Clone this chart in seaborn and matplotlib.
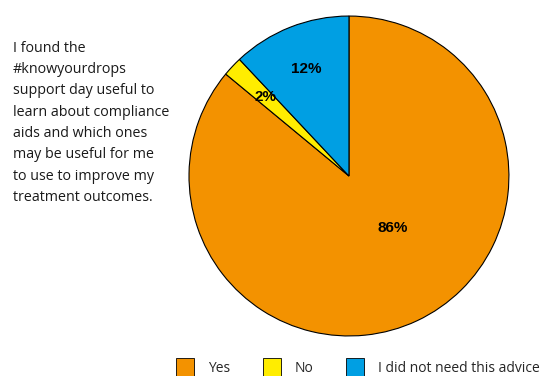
import matplotlib
matplotlib.use("Agg")
import matplotlib.pyplot as plt
import seaborn as sns
import numpy as np

sns.set_theme(style="white")
plt.rcParams['font.family'] = ['Open Sans', 'DejaVu Sans']

categories = ["Yes", "No", "I did not need this advice"]
values = [86, 2, 12]
colors = ["#F39200", "#FFED00", "#009FE3"]
question = ("I found the\n#knowyourdrops\nsupport day useful to\nlearn about compliance\n"
            "aids and which ones\nmay be useful for me\nto use to improve my\ntreatment outcomes.")

fig = plt.figure(figsize=(5.45, 3.76), dpi=100)
ax = fig.add_axes([0.3468, 0.1064, 0.587, 0.851])
wedges, texts, autotexts = ax.pie(
    values, colors=colors, startangle=90, counterclock=False,
    autopct=lambda p: f"{p:.0f}%", pctdistance=0.72,
    wedgeprops=dict(edgecolor="black", linewidth=0.8),
    textprops=dict(fontsize=11, fontweight="bold", color="black",
                   family=['Liberation Sans', 'DejaVu Sans']))
ax.set_xlim(-1, 1)
ax.set_ylim(-1, 1)
ax.set_aspect("equal")
# move the big slice label nearer the centre as in the reference
autotexts[0].set_position((0.275, -0.325))

fig.text(13/545, 1 - 40.5/376, question, ha="left", va="top",
         fontsize=10.3, linespacing=1.58, color="#1a1a1a")

leg = fig.legend(wedges, categories, loc="lower right", ncol=3,
                 bbox_to_anchor=(1.013, -0.035), frameon=False, fontsize=10,
                 handlelength=1.3, handleheight=1.65, columnspacing=2.35,
                 handletextpad=1.0)
for h in leg.legend_handles:
    h.set_edgecolor("black")
    h.set_linewidth(0.6)

fig.savefig("out.png", dpi=100)
